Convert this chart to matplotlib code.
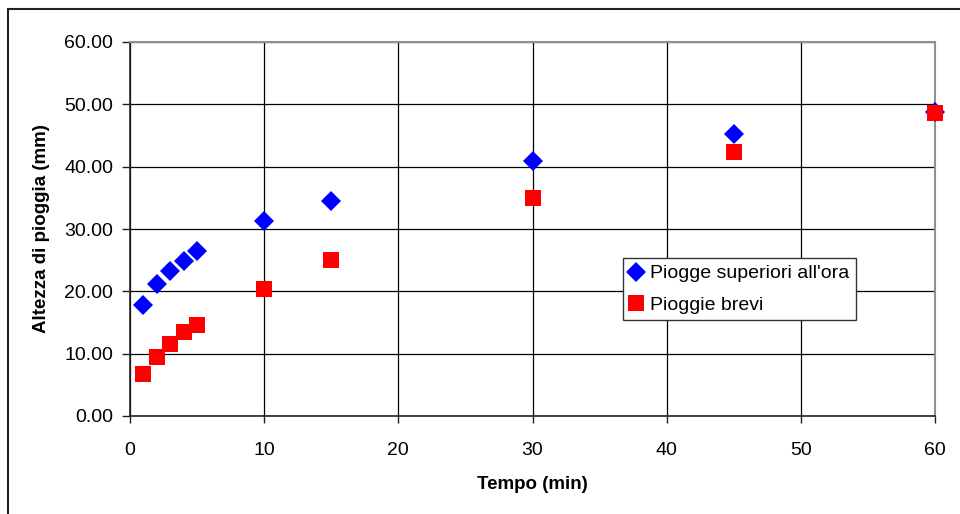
import matplotlib
matplotlib.use("Agg")
import matplotlib.pyplot as plt
from matplotlib.patches import Rectangle
from matplotlib.ticker import FormatStrFormatter

plt.rcParams['font.family'] = ['Liberation Sans', 'DejaVu Sans']

tempo = [1, 2, 3, 4, 5, 10, 15, 30, 45, 60]
piogge_superiori = [17.8, 21.2, 23.3, 24.9, 26.5, 31.3, 34.5, 40.9, 45.2, 48.8]
piogge_brevi = [6.7, 9.5, 11.6, 13.5, 14.6, 20.4, 25.0, 35.0, 42.4, 48.6]
x_ticks = [0, 10, 20, 30, 40, 50, 60]
y_ticks = [0, 10, 20, 30, 40, 50, 60]

W, H = 960, 514
fig = plt.figure(figsize=(W / 100, H / 100), dpi=100)
ax = fig.add_axes([130 / W, 1 - 416 / H, 805 / W, 374 / H])

# outer chart border
fig.patches.append(Rectangle((8 / W, -0.1), 1.2, 1 - 9 / H + 0.1, transform=fig.transFigure,
                             fill=False, edgecolor='#222222', linewidth=1.5, zorder=0))

ax.set_xlim(0, 60)
ax.set_ylim(0, 60)
ax.set_xticks(x_ticks)
ax.set_yticks(y_ticks)
ax.yaxis.set_major_formatter(FormatStrFormatter('%.2f'))
ax.grid(True, color='black', linewidth=0.9)
ax.set_axisbelow(True)

for s in ['top', 'right']:
    ax.spines[s].set_color('#909090')
    ax.spines[s].set_linewidth(1.5)
for s in ['left', 'bottom']:
    ax.spines[s].set_color('#222222')
    ax.spines[s].set_linewidth(1.2)

ax.tick_params(axis='y', direction='out', length=6, width=1, color='#222222',
               labelsize=14, pad=6)
ax.tick_params(axis='x', direction='out', length=5, width=1, color='#222222',
               labelsize=14, pad=14)

ax.plot(tempo, piogge_superiori, linestyle='none', marker='D', markersize=10.5,
        color='#0000FF', markeredgewidth=0, label="Piogge superiori all'ora", clip_on=False, zorder=3)
ax.plot(tempo, piogge_brevi, linestyle='none', marker='s', markersize=12,
        color='#FF0000', markeredgewidth=0, label='Pioggie brevi', clip_on=False, zorder=4)

ax.set_xlabel('Tempo (min)', fontsize=13.5, fontweight='bold', labelpad=12)
ax.set_ylabel('Altezza di pioggia (mm)', fontsize=13.5, fontweight='bold', labelpad=10)

leg = ax.legend(loc='upper left', bbox_to_anchor=(0.612, 0.4225), fontsize=14,
                frameon=True, fancybox=False, edgecolor='#333333', framealpha=1,
                handlelength=0.7, handletextpad=0.35, borderpad=0.35, labelspacing=0.7,
                borderaxespad=0)
leg.get_frame().set_linewidth(1.0)

fig.savefig('out.png', dpi=100)
